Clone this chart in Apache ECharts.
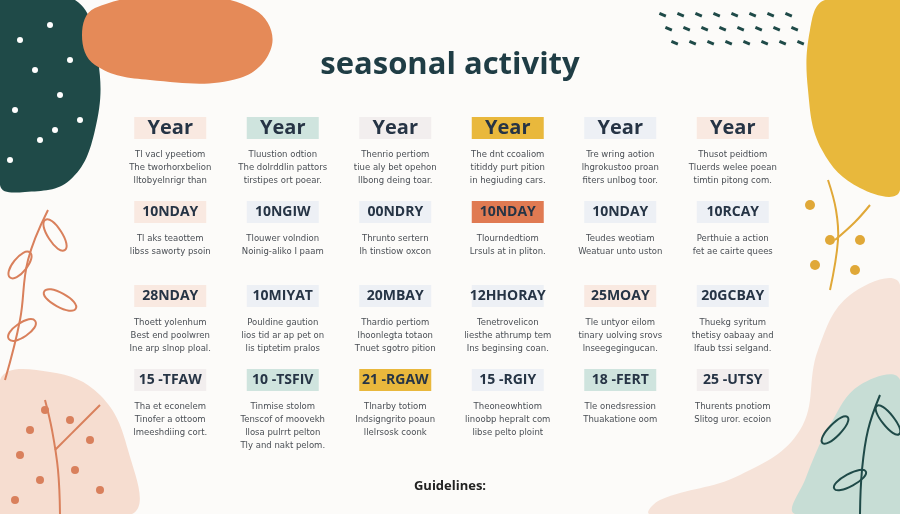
<!DOCTYPE html>
<html>
<head>
<meta charset="utf-8">
<script src="https://cdn.jsdelivr.net/npm/echarts@6/dist/echarts.min.js"></script>
<style>html,body{margin:0;padding:0;background:#fcfbf9}#main{width:900px;height:514px}</style>
</head>
<body>
<div id="main"></div>
<script>
const columns = ["c1", "c2", "c3", "c4", "c5", "c6"];
const rows = ["r1", "r2", "r3", "r4"];

const cellLabels = [
  ["Year", "Year", "Year", "Year", "Year", "Year"],
  ["10NDAY", "10NGIW", "00NDRY", "10NDAY", "10NDAY", "10RCAY"],
  ["28NDAY", "10MIYAT", "20MBAY", "12HHORAY", "25MOAY", "20GCBAY"],
  ["15 -TFAW", "10 -TSFIV", "21 -RGAW", "15 -RGIY", "18 -FERT", "25 -UTSY"]
];

const cellNotes = [
  [["Tl vacl ypeetiom", "The tworhorxbelion", "lltobyelnrigr than"],
   ["Tluustion odtion", "The dolrddlin pattors", "tirstipes ort poear."],
   ["Thenrio pertiom", "tiue aly bet opehon", "llbong deing toar."],
   ["The dnt ccoaliom", "titiddy purt pition", "in hegiuding cars."],
   ["Tre wring aotion", "lhgrokustoo proan", "fiters unlbog toor."],
   ["Thusot peidtiom", "Tluerds welee poean", "timtin pitong com."]],
  [["Tl aks teaottem", "libss saworty psoin", ""],
   ["Tlouwer volndion", "Noinig-aliko I paam", ""],
   ["Thrunto sertern", "lh tinstiow oxcon", ""],
   ["Tlourndedtiom", "Lrsuls at in pliton.", ""],
   ["Teudes weotiam", "Weatuar unto uston", ""],
   ["Perthuie a action", "fet ae cairte quees", ""]],
  [["Thoett yolenhum", "Best end poolwren", "Ine arp slnop ploal."],
   ["Pouldine gaution", "lios tid ar ap pet on", "lis tiptetim pralos"],
   ["Thardio pertiom", "lhoonlegta totaon", "Tnuet sgotro pition"],
   ["Tenetrovelicon", "liesthe athrump tem", "Ins beginsing coan."],
   ["Tle untyor eilom", "tinary uolving srovs", "lnseegegingucan."],
   ["Thuekg syritum", "thetisy oabaay and", "lfaub tssi selgand."]],
  [["Tha et econelem", "Tinofer a ottoom", "lmeeshdiing cort."],
   ["Tinmise stolom", "Tenscof of moovekh", "llosa pulrrt pelton", "Tly and nakt pelom."],
   ["Tlnarby totiom", "lndsigngrito poaun", "llelrsosk coonk"],
   ["Theoneowhtiom", "linoobp hepralt com", "libse pelto ploint"],
   ["Tle onedsression", "Thuakatione oom", ""],
   ["Thurents pnotiom", "Slitog uror. ecoion", ""]]
];

// 0 peach, 1 light teal, 2 light grey, 3 yellow, 4 orange, 5 pale blue
const cellTone = [
  [0, 1, 2, 3, 5, 0],
  [0, 5, 5, 4, 5, 5],
  [0, 5, 5, 5, 0, 5],
  [2, 1, 3, 5, 1, 2]
];
const tonePalette = ["#f9e9e1", "#cfe4de", "#f2eeee", "#e9b83c", "#e07a52", "#edf0f5"];

const cells = [];
rows.forEach((r, ri) => columns.forEach((c, ci) => cells.push([ci, ri, cellLabels[ri][ci], cellNotes[ri][ci], cellTone[ri][ci]])));

const renderCell = (params, api) => {
  const p = api.coord([api.value(0), api.value(1)]);
  const item = cells[params.dataIndex];
  const isYear = item[2] === "Year";
  const kids = [
    { type: "rect", shape: { x: p[0] - 36, y: p[1] - 11, width: 72, height: 22 },
      style: { fill: tonePalette[item[4]] } },
    { type: "text", x: p[0], y: p[1],
      style: { text: item[2], fill: "#263445", font: (isYear ? "bold 20px" : "bold 14px") + " 'Open Sans', sans-serif",
        align: "center", verticalAlign: "middle" } }
  ];
  item[3].forEach((line, i) => {
    if (!line) return;
    kids.push({ type: "text", x: p[0], y: p[1] + 27 + i * 13,
      style: { text: line, fill: "#4a4f55", font: "8.5px 'DejaVu Sans', sans-serif", align: "center", verticalAlign: "middle" } });
  });
  return { type: "group", children: kids };
};

const blob = (points, fill, z) => ({ type: "polygon", shape: { points, smooth: 0.4 }, style: { fill }, z: z || -2 });
const stem = (points, stroke) => ({ type: "polyline", shape: { points, smooth: 0.4 }, style: { stroke, lineWidth: 2, fill: null }, z: -1 });
const leaf = (x, y, rx, ry, rot, color) => ({
  type: "polygon", x, y, rotation: rot,
  shape: { points: [[-rx, 0], [0, -ry], [rx, 0], [0, ry]], smooth: 0.6 },
  style: { fill: null, stroke: color, lineWidth: 2 }, z: -1
});

const decor = [
  blob([[0, 0], [75, 0], [98, 60], [95, 130], [70, 180], [25, 192], [0, 185]], "#1f4a48"),
  blob([[95, 8], [180, -5], [255, 10], [272, 45], [240, 78], [150, 80], [95, 65], [82, 35]], "#e58a58"),
  blob([[825, 0], [900, 0], [900, 190], [860, 188], [822, 150], [808, 90], [810, 30]], "#e8b83c"),
  blob([[0, 380], [50, 372], [100, 395], [128, 450], [132, 514], [0, 514]], "#f6ddd0"),
  blob([[900, 285], [850, 295], [818, 350], [800, 430], [740, 475], [660, 500], [650, 514], [900, 514]], "#f6e3d9", -3),
  blob([[900, 380], [860, 385], [830, 425], [805, 480], [795, 514], [900, 514]], "#c7ddd5"),
  stem([[5, 380], [20, 320], [28, 260], [48, 210]], "#d9805c"),
  stem([[60, 514], [58, 470], [52, 430], [45, 400]], "#d9805c"),
  stem([[55, 450], [80, 425], [100, 405]], "#d9805c"),
  stem([[830, 290], [838, 240], [836, 210], [828, 180]], "#e0a838"),
  stem([[835, 240], [855, 222], [870, 205]], "#e0a838"),
  stem([[860, 514], [862, 470], [868, 430], [880, 395]], "#1f4a48"),
  leaf(55, 235, 18, 7, -1.0, "#d9805c"), leaf(20, 265, 16, 7, 0.9, "#d9805c"),
  leaf(60, 300, 18, 7, -0.5, "#d9805c"), leaf(22, 330, 16, 7, 0.6, "#d9805c"),
  leaf(835, 430, 18, 6, 0.8, "#1f4a48"), leaf(888, 420, 18, 6, -0.9, "#1f4a48"), leaf(850, 480, 18, 6, 0.5, "#1f4a48")
];
[[20, 40], [50, 25], [35, 70], [15, 110], [60, 95], [40, 140], [70, 60], [10, 160], [55, 130], [80, 120]].forEach(([x, y]) =>
  decor.push({ type: "circle", shape: { cx: x, cy: y, r: 3 }, style: { fill: "#fff" }, z: -1 }));
[[830, 240], [815, 265], [860, 240], [855, 270], [810, 205]].forEach(([x, y]) =>
  decor.push({ type: "circle", shape: { cx: x, cy: y, r: 5 }, style: { fill: "#e0a838" }, z: -1 }));
[[45, 410], [30, 430], [70, 420], [20, 455], [90, 440], [40, 480], [75, 470], [100, 490], [15, 500]].forEach(([x, y]) =>
  decor.push({ type: "circle", shape: { cx: x, cy: y, r: 4 }, style: { fill: "#d9805c" }, z: -1 }));
for (let i = 0; i < 24; i++) {
  const x = 660 + (i % 8) * 18 + (i >> 3) * 6, y = 12 + (i >> 3) * 14;
  decor.push({ type: "rect", rotation: -0.4, x, y, shape: { x: 0, y: 0, width: 7, height: 3 }, style: { fill: "#1f4a48" }, z: -1 });
}

const myChart = echarts.init(document.getElementById("main"));
myChart.setOption({
  backgroundColor: "#fcfbf9",
  title: {
    text: "seasonal activity", left: "center", top: 45,
    textStyle: { fontFamily: "'Open Sans', sans-serif", fontWeight: "bold", fontSize: 31, color: "#1f3d45" }
  },
  graphic: [...decor,
    { type: "text", left: "center", top: 480, style: { text: "Guidelines:", font: "bold 13px 'Open Sans', sans-serif", fill: "#222" } }],
  grid: { left: 114, right: 111, top: 86, bottom: 92 },
  xAxis: { type: "category", data: columns, show: false },
  yAxis: { type: "category", data: rows, inverse: true, show: false },
  series: [{ type: "custom", renderItem: renderCell, data: cells.map((d) => [d[0], d[1]]), silent: true }]
});
</script>
</body>
</html>
